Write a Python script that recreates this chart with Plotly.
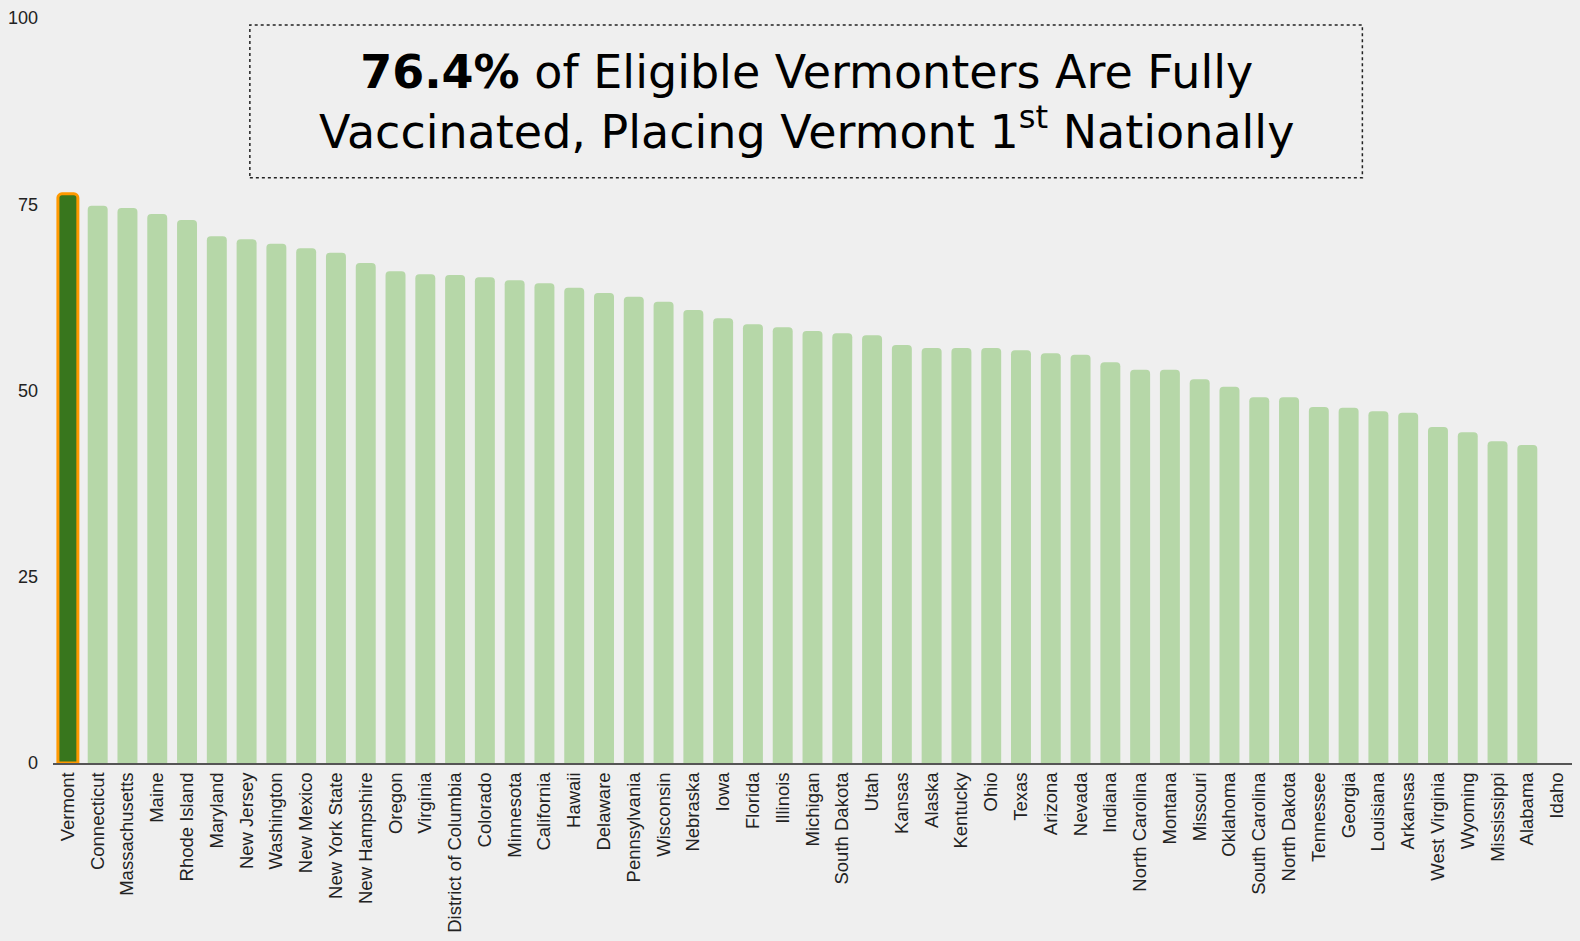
import plotly.graph_objects as go

states = ["Vermont", "Connecticut", "Massachusetts", "Maine", "Rhode Island", "Maryland",
          "New Jersey", "Washington", "New Mexico", "New York State", "New Hampshire", "Oregon",
          "Virginia", "District of Columbia", "Colorado", "Minnesota", "California", "Hawaii",
          "Delaware", "Pennsylvania", "Wisconsin", "Nebraska", "Iowa", "Florida", "Illinois",
          "Michigan", "South Dakota", "Utah", "Kansas", "Alaska", "Kentucky", "Ohio", "Texas",
          "Arizona", "Nevada", "Indiana", "North Carolina", "Montana", "Missouri", "Oklahoma",
          "South Carolina", "North Dakota", "Tennessee", "Georgia", "Louisiana", "Arkansas",
          "West Virginia", "Wyoming", "Mississippi", "Alabama", "Idaho"]

pct_vaccinated = [76.4, 74.8, 74.5, 73.7, 72.9, 70.7,
                  70.3, 69.7, 69.1, 68.5, 67.1, 66.0,
                  65.6, 65.5, 65.2, 64.8, 64.4, 63.8,
                  63.1, 62.6, 61.9, 60.8, 59.7, 58.9, 58.5,
                  58.0, 57.7, 57.4, 56.1, 55.7, 55.7, 55.7, 55.4,
                  55.0, 54.8, 53.8, 52.8, 52.8, 51.5, 50.5,
                  49.1, 49.1, 47.8, 47.7, 47.2, 47.0,
                  45.1, 44.4, 43.2, 42.7, None]

y_ticks = [0, 25, 50, 75, 100]
highlight = "Vermont"

title_text = ("<b>76.4%</b> of Eligible Vermonters Are Fully<br>"
              "Vaccinated, Placing Vermont 1<sup>st</sup> Nationally")

bar_colors = ["#38761d" if s == highlight else "#b6d7a8" for s in states]
line_colors = ["#ff9900" if s == highlight else "rgba(0,0,0,0)" for s in states]
line_widths = [3 if s == highlight else 0 for s in states]

fig = go.Figure()
fig.add_trace(go.Bar(
    x=states, y=pct_vaccinated,
    marker=dict(color=bar_colors, line=dict(color=line_colors, width=line_widths),
                cornerradius=4),
    hoverinfo="x+y",
))

fig.update_layout(
    width=1580, height=941,
    margin=dict(l=52, r=8, t=15, b=175),
    paper_bgcolor="#efefef", plot_bgcolor="#efefef",
    bargap=0.33,
    showlegend=False,
    font=dict(family="Arial, Liberation Sans, sans-serif", size=18, color="#222222"),
    xaxis=dict(tickangle=-90, showgrid=False, showline=True, linecolor="#555555",
               linewidth=2, ticks="", tickfont=dict(size=18.5, color="#222222")),
    yaxis=dict(range=[0, 100], tickvals=y_ticks, showgrid=False, zeroline=False,
               showline=False, ticks="", ticklabelstandoff=14,
               tickfont=dict(size=18, color="#222222")),
)

# plot area: x 52..1572 px, y 15..766 px
fig.add_shape(type="rect", xref="paper", yref="paper",
              x0=0.1296, x1=0.862, y0=0.7856, y1=0.9907,
              line=dict(color="#222222", width=1.5, dash="dot"))

fig.add_annotation(xref="paper", yref="paper", x=0.4958, y=0.8878, yanchor="middle",
                   xanchor="center", text=title_text, showarrow=False, align="center",
                   font=dict(family="DejaVu Sans, Open Sans, sans-serif", size=46,
                             color="#000000"))

fig.write_html("out.html", config={"displayModeBar": False},
               post_script="document.body.style.margin='0';")
